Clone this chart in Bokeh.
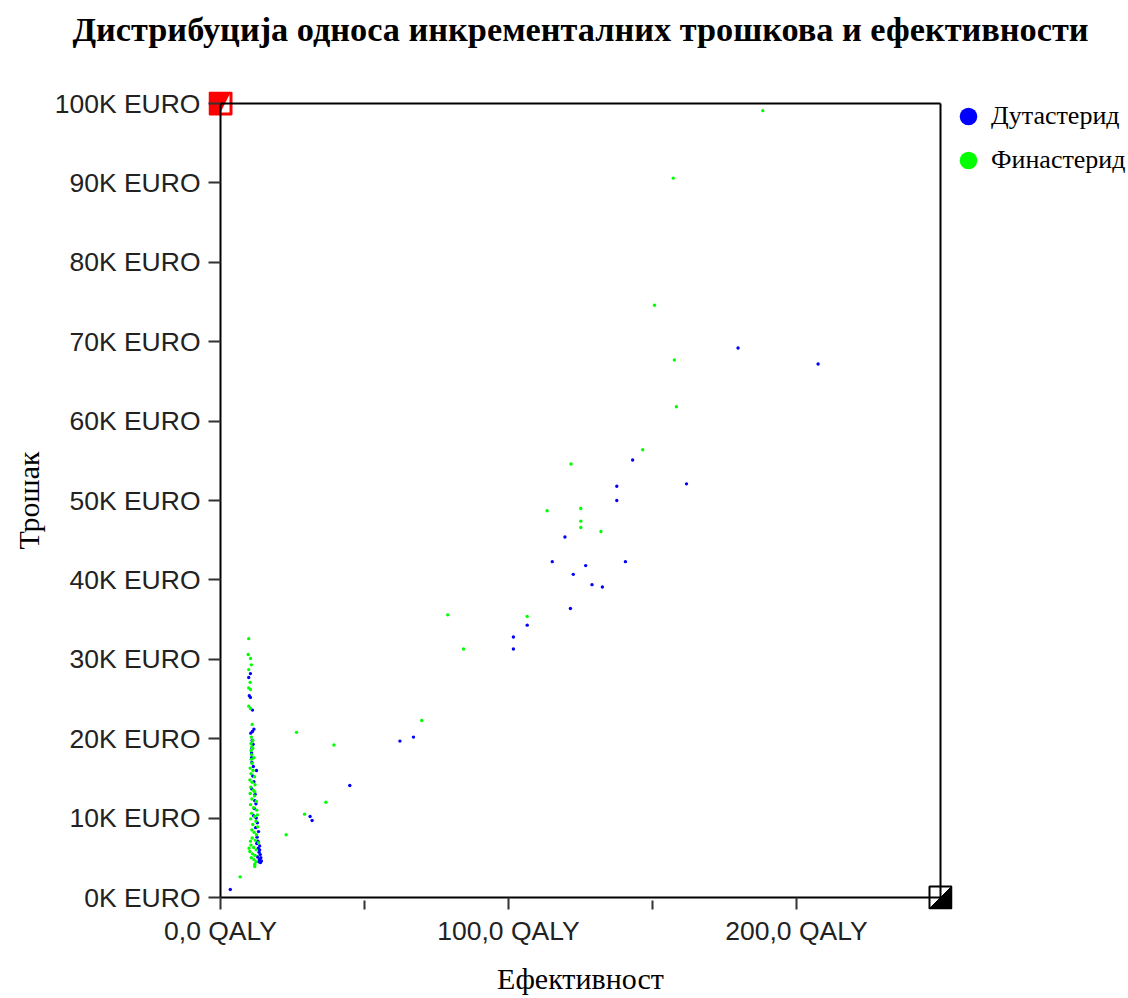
from bokeh.plotting import figure
from bokeh.models import FixedTicker, Legend, LegendItem, Range1d, Title
from bokeh.embed import file_html
from bokeh.resources import INLINE

TITLE = "Дистрибуција односа инкременталних трошкова и ефективности"
X_LABEL = "Ефективност"
Y_LABEL = "Трошак"
SERIES_NAMES = ["Дутастерид", "Финастерид"]
SERIES_COLORS = ["#0000ff", "#00ff00"]

X_MAX = 250
Y_MAX = 100000
X_TICKS = [0, 100, 200]
X_TICK_LABELS = ["0,0 QALY", "100,0 QALY", "200,0 QALY"]
X_MINOR_TICKS = [50, 150]
Y_TICKS = [0, 10000, 20000, 30000, 40000, 50000, 60000, 70000, 80000, 90000, 100000]
Y_TICK_LABELS = ["0K EURO", "10K EURO", "20K EURO", "30K EURO", "40K EURO", "50K EURO",
                 "60K EURO", "70K EURO", "80K EURO", "90K EURO", "100K EURO"]

# Дутастерид (QALY, EURO)
dut_x = [3.4, 31.1, 31.8, 44.9, 62.3, 67.0, 101.7, 101.7, 106.5, 119.6, 121.5, 115.2, 126.8,
         122.5, 129.0, 132.6, 140.6, 137.6, 137.6, 143.1, 161.8, 179.7, 207.5,
         10.4, 9.8, 10.0, 10.4, 11.1, 11.6, 11.1, 10.5, 11.0, 11.3, 10.9, 10.8, 10.8, 10.9,
         12.5, 11.2, 11.6, 10.8, 11.9, 12.3, 11.7, 11.5, 12.8, 12.2, 12.7, 13.0, 13.6, 13.4,
         13.1, 13.8, 14.0, 13.5, 14.2, 13.3, 13.9, 12.9, 13.6, 12.6, 13.2, 12.4, 12.0, 11.4]
dut_y = [1000, 10200, 9700, 14100, 19700, 20200, 31300, 32800, 34300, 45400, 36400, 42300, 41800,
         40700, 39400, 39100, 42300, 51800, 50000, 55100, 52100, 69200, 67200,
         28200, 27700, 25400, 25200, 23600, 21200, 20900, 20700, 19800, 19300, 18800, 18200, 17600, 17000,
         16000, 15300, 14600, 13700, 12200, 11800, 11200, 10300, 9400, 8800, 7600, 7100, 6500, 5700,
         6200, 5400, 5000, 4800, 4600, 4500, 4400, 5100, 6000, 6800, 8300, 10000, 13000, 16500]

# Финастерид (QALY, EURO)
fin_x = [6.8, 22.8, 29.2, 36.6, 26.4, 39.4, 69.9, 78.9, 84.4, 106.5, 113.4, 121.7, 125.1, 125.1,
         125.1, 132.1, 146.6, 150.7, 157.6, 158.3, 157.2, 188.3,
         9.8, 9.6, 10.4, 10.7, 9.8, 10.3, 9.8, 10.4, 9.8, 10.4, 11.0, 10.7, 11.2, 10.6, 10.9,
         10.6, 10.8, 10.7, 10.9, 10.3, 11.3, 10.6, 11.8, 10.2, 11.0, 12.0, 10.5, 11.4, 10.3,
         11.8, 10.9, 12.4, 10.4, 11.5, 12.6, 10.8, 11.9, 10.5, 12.3, 11.2, 12.9, 10.9, 11.7,
         12.5, 11.0, 12.1, 13.2, 10.6, 11.5, 12.4, 10.2, 11.1, 12.0, 10.7, 11.6, 12.3, 11.9,
         11.9, 9.9, 10.4, 12.8, 11.6, 11.2, 11.9]
fin_y = [2600, 7900, 10500, 12000, 20800, 19200, 22300, 35600, 31300, 35400, 48700, 54600, 49000, 47400,
         46600, 46100, 56400, 74600, 67700, 61800, 90600, 99100,
         32600, 30600, 30100, 29300, 28700, 27100, 26400, 26200, 24100, 23800, 21800, 20200, 19800, 19400, 19000,
         18500, 18000, 17400, 16900, 16300, 16000, 15600, 15200, 14800, 14500, 14200, 13900, 13500, 13100,
         12800, 12400, 12100, 11700, 11300, 11000, 10600, 10200, 9900, 9600, 9200, 8900, 8500, 8200,
         7900, 7500, 7200, 6900, 6600, 6300, 6000, 5800, 5500, 5300, 5000, 4800, 4500, 4200,
         3900, 6200, 7100, 10400, 17600, 18800, 13300]

# layout (pixels)
PLOT_W, PLOT_H = 720, 794      # size of the 0..X_MAX / 0..Y_MAX area
PAD = 12                       # room inside the frame for the corner markers
FRAME_W, FRAME_H = PLOT_W + 2 * PAD, PLOT_H + 2 * PAD
B_LEFT, B_RIGHT, B_TOP, B_BOTTOM = 208, 176, 91, 89

dxp = X_MAX / PLOT_W
dyp = Y_MAX / PLOT_H

p = figure(frame_width=FRAME_W, frame_height=FRAME_H,
           x_range=Range1d(-PAD * dxp, X_MAX + PAD * dxp),
           y_range=Range1d(-PAD * dyp, Y_MAX + PAD * dyp),
           output_backend="svg", toolbar_location=None,
           min_border_left=B_LEFT, min_border_right=B_RIGHT,
           min_border_top=B_TOP, min_border_bottom=B_BOTTOM)
p.title.text = ""

spacer = Title(text=" ", text_font_size="20px", standoff=20)
p.add_layout(spacer, "above")
title = Title(text=TITLE, align="center", text_font="Liberation Serif", text_font_size="34.3px",
              text_font_style="bold", text_color="black", standoff=0)
p.add_layout(title, "above")

p.xgrid.visible = False
p.ygrid.visible = False
p.outline_line_color = None
p.background_fill_color = "white"
p.border_fill_color = "white"

# axes: ticks drawn inward from the frame edge up to the 0 lines
p.xaxis.ticker = FixedTicker(ticks=X_TICKS, minor_ticks=X_MINOR_TICKS)
p.xaxis.major_label_overrides = dict(zip(X_TICKS, X_TICK_LABELS))
p.yaxis.ticker = FixedTicker(ticks=Y_TICKS, minor_ticks=[])
p.yaxis.major_label_overrides = dict(zip(Y_TICKS, Y_TICK_LABELS))
for ax in (p.xaxis, p.yaxis):
    ax.axis_line_color = None
    ax.major_tick_line_color = "#333333"
    ax.major_tick_line_width = 2
    ax.minor_tick_line_color = "#333333"
    ax.minor_tick_line_width = 2
    ax.major_tick_in = PAD
    ax.major_tick_out = 0
    ax.minor_tick_in = PAD - 3
    ax.minor_tick_out = 0
    ax.major_label_text_font = "Liberation Sans"
    ax.major_label_text_font_size = "26.5px"
    ax.major_label_text_color = "#222222"
    ax.axis_label_text_font = "Liberation Serif"
    ax.axis_label_text_font_size = "30px"
    ax.axis_label_text_font_style = "normal"
    ax.axis_label_text_color = "black"
p.yaxis.minor_tick_line_color = None
p.xaxis.major_label_standoff = 6
p.yaxis.major_label_standoff = 8
p.xaxis.axis_label = X_LABEL
p.yaxis.axis_label = Y_LABEL
p.xaxis.axis_label_standoff = 13
p.yaxis.axis_label_standoff = 7

# corner markers
h = 11
inner = 9
p.patch([-h * dxp, h * dxp, h * dxp, -h * dxp],
        [Y_MAX - h * dyp, Y_MAX - h * dyp, Y_MAX + h * dyp, Y_MAX + h * dyp],
        fill_color="red", line_color="red", line_width=2)
p.patch([0, inner * dxp, inner * dxp],
        [Y_MAX - inner * dyp, Y_MAX - inner * dyp, Y_MAX + inner * dyp],
        fill_color="white", line_color=None)
p.patch([X_MAX - h * dxp, X_MAX + h * dxp, X_MAX + h * dxp, X_MAX - h * dxp],
        [-h * dyp, -h * dyp, h * dyp, h * dyp],
        fill_color="white", line_color="black", line_width=2)
p.patch([X_MAX - h * dxp, X_MAX + h * dxp, X_MAX + h * dxp],
        [-h * dyp, -h * dyp, h * dyp],
        fill_color="black", line_color="black", line_width=1)

r_dut = p.scatter(dut_x, dut_y, marker="circle", size=3.4, fill_color=SERIES_COLORS[0],
                  line_color=None)
r_fin = p.scatter(fin_x, fin_y, marker="circle", size=3.4, fill_color=SERIES_COLORS[1],
                  line_color=None)

# frame lines at 0 / max
p.segment(x0=[0, 0, 0, X_MAX], y0=[0, Y_MAX, 0, 0],
          x1=[X_MAX, X_MAX, 0, X_MAX], y1=[0, Y_MAX, Y_MAX, Y_MAX],
          line_color="black", line_width=2)

LEG_GW, LEG_GH = 46, 44
leg_height = 2 * LEG_GH
legend = Legend(items=[LegendItem(label=SERIES_NAMES[0], renderers=[r_dut]),
                       LegendItem(label=SERIES_NAMES[1], renderers=[r_fin])],
                location=(-7, FRAME_H - 3 - leg_height), orientation="vertical")
legend.glyph_width = LEG_GW
legend.glyph_height = LEG_GH
legend.spacing = 0
legend.margin = 0
legend.padding = 0
legend.label_standoff = -3
legend.border_line_color = None
legend.background_fill_alpha = 0
legend.label_text_font = "Liberation Serif"
legend.label_text_font_size = "26px"
legend.label_text_color = "black"
p.add_layout(legend, "right")

open("out.html", "w").write(file_html(p, INLINE))
